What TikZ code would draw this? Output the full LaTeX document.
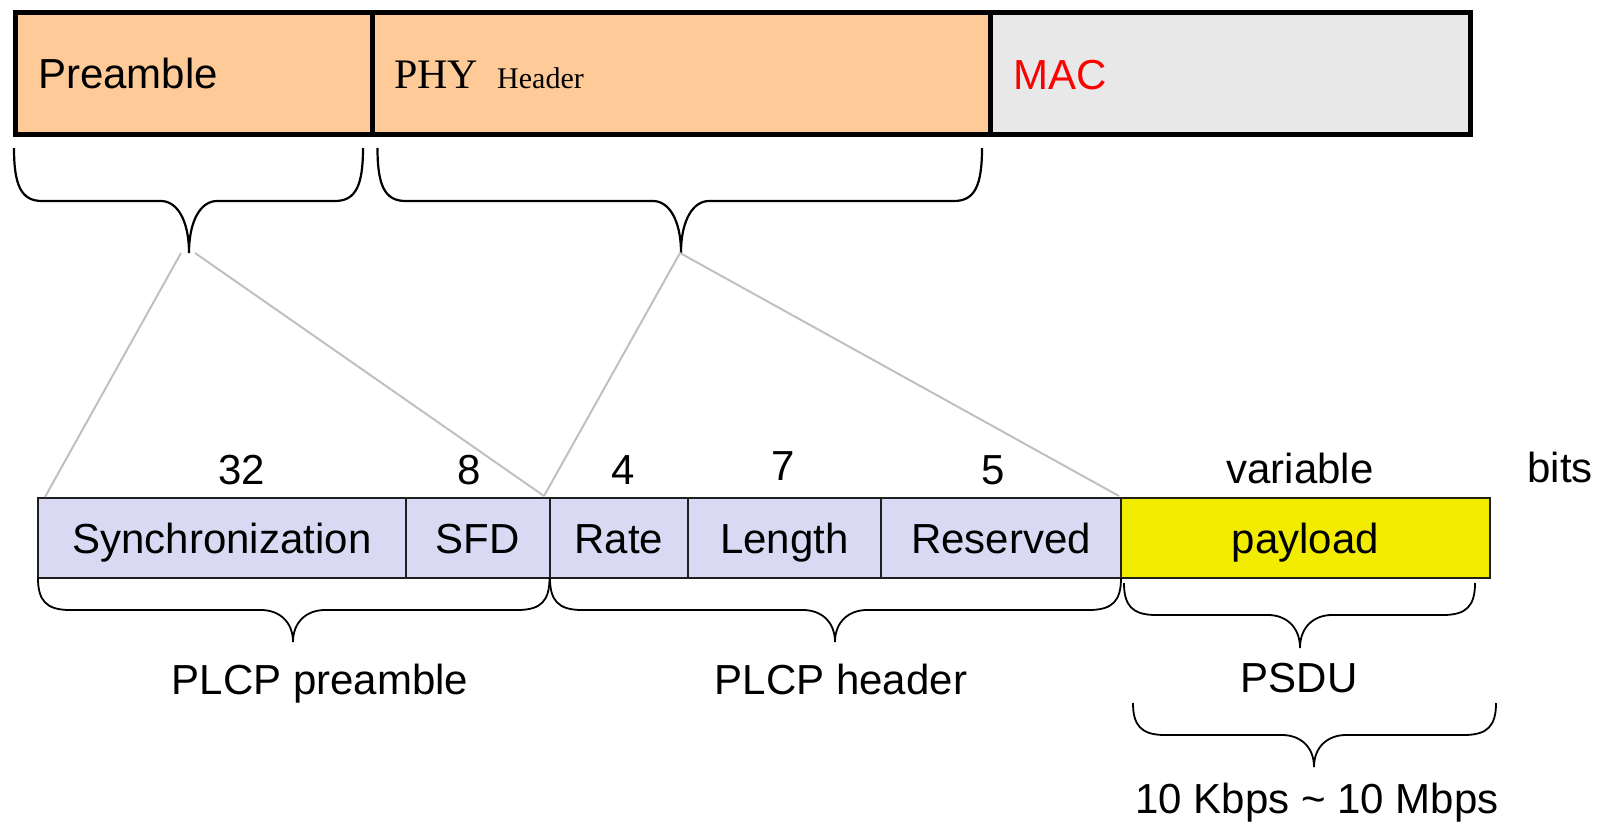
\documentclass[tikz,border=0pt]{standalone}
\usepackage{fontspec}
\setmainfont{Liberation Sans}
\newfontfamily\timesf{Liberation Serif}
\definecolor{topfill}{HTML}{FECB98}
\definecolor{macfill}{HTML}{E8E8E8}
\definecolor{fieldfill}{HTML}{D9D9F3}
\definecolor{payfill}{HTML}{F2EC00}
\definecolor{linkgray}{HTML}{C0C0C0}
\definecolor{macred}{HTML}{FF0000}
\newcommand\mybrace[8]{% style, x0, x1, xm, ytop, ymid, ytip, r
  \draw[#1] (#2,#5) .. controls (#2,{#5+0.7*(#6-#5)}) and ({#2+0.25*#8},#6) .. ({#2+#8},#6)
   -- ({#4-#8},#6) .. controls ({#4-0.45*#8},#6) and (#4,{#6+0.35*(#7-#6)}) .. (#4,#7)
   .. controls (#4,{#6+0.35*(#7-#6)}) and ({#4+0.45*#8},#6) .. ({#4+#8},#6)
   -- ({#3-#8},#6) .. controls ({#3-0.25*#8},#6) and (#3,{#5+0.7*(#6-#5)}) .. (#3,#5);}
\tikzset{
  topbox/.style={draw=black, line width=5pt, minimum height=122pt, inner sep=0pt, outer sep=0pt, anchor=north west},
  field/.style={draw=black!88, line width=2pt, minimum height=80pt, inner sep=0pt, outer sep=0pt,
    anchor=west, fill=fieldfill, text height=30pt, text depth=0pt, font=\fontsize{42}{50}\selectfont},
  lbl/.style={inner sep=0pt, anchor=base, font=\fontsize{42}{50}\selectfont},
  topbrace/.style={line width=2.2pt, black},
  botbrace/.style={line width=1.8pt, black},
  link/.style={line width=2pt, linkgray},
}
\begin{document}
\begin{tikzpicture}[x=1pt, y=-1pt]
\useasboundingbox (0,0) rectangle (1606,824);
% top bar
\node[topbox, fill=topfill, minimum width=357pt] (pre) at (15,12.5) {};
\node[topbox, fill=topfill, minimum width=618pt] (phy) at (372,12.5) {};
\node[topbox, fill=macfill, minimum width=480pt] (mac) at (990,12.5) {};
\node[inner sep=0pt, anchor=base west, font=\fontsize{42}{50}\selectfont] (pretxt) at (38,89) {Preamble};
\node[inner sep=0pt, anchor=base west, font=\timesf\fontsize{42}{50}\selectfont] (phytxt) at (394,89) {PHY};
\node[inner sep=0pt, anchor=base west, font=\timesf\fontsize{30}{36}\selectfont] (hdrtxt) at (497,89) {Header};
\node[inner sep=0pt, anchor=base west, text=macred, font=\fontsize{42}{50}\selectfont] (mactxt) at (1013,90) {MAC};
% top braces
\mybrace{topbrace}{14}{363}{189}{148}{201}{253}{28}
\mybrace{topbrace}{377.5}{982}{681}{148}{201}{253}{28}
% fields
\node[field, minimum width=368pt] (sync) at (38,538) {Synchronization};
\node[field, minimum width=143.5pt] (sfd) at (406,538) {SFD};
\node[field, minimum width=138.5pt] (rate) at (549.5,538) {Rate};
\node[field, minimum width=193pt] (len) at (688,538) {Length};
\node[field, minimum width=240pt] (res) at (881,538) {Reserved};
\node[field, fill=payfill, line width=2.5pt, minimum width=369pt] (pay) at (1121,538) {payload};
% bit counts
\node[lbl] (n32) at (242,484) {32};
\node[lbl] (n8) at (469,484) {8};
\node[lbl] (n4) at (623,484) {4};
\node[lbl] (n7) at (783.5,480) {7};
\node[lbl] (n5) at (993.5,484) {5};
\node[lbl] (nvar) at (1300,483) {variable};
\node[lbl] (bits) at (1560,482) {bits};
% connector lines
\coordinate (tipA) at (181,253);
\coordinate (tipB) at (195,253);
\coordinate (tipC) at (680,253);
\coordinate (endA) at (45,497);
\coordinate (endB) at (544,496);
\coordinate (endC) at (1119,496);
\draw[link] (tipA) -- (endA);
\draw[link] (tipB) -- (endB);
\draw[link] (tipC) -- (endB);
\draw[link] (tipC) -- (endC);
% bottom braces
\mybrace{botbrace}{38}{549.5}{293}{578}{610}{642}{32}
\mybrace{botbrace}{550}{1121}{835}{578}{610}{642}{32}
\mybrace{botbrace}{1124}{1475}{1300}{583}{615}{648}{32}
\mybrace{botbrace}{1133}{1496}{1314}{703}{735}{767}{32}
% bottom labels
\node[lbl] (plcppre) at (320,694) {PLCP preamble};
\node[lbl] (plcphdr) at (841,694) {PLCP header};
\node[lbl] (psdu) at (1299,692) {PSDU};
\node[lbl] (rates) at (1317,813) {10 Kbps \textasciitilde\ 10 Mbps};
\end{tikzpicture}
\end{document}
